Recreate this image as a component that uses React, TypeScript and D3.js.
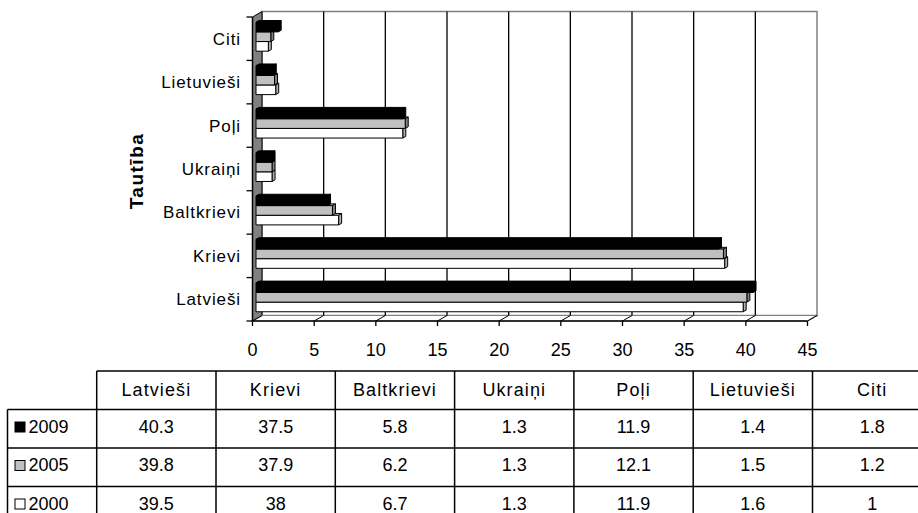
import React from 'react'
import * as d3 from 'd3'

const categories = ['Latvieši', 'Krievi', 'Baltkrievi', 'Ukraiņi', 'Poļi', 'Lietuvieši', 'Citi']
const years = ['2009', '2005', '2000']
const values2009 = [40.3, 37.5, 5.8, 1.3, 11.9, 1.4, 1.8]
const values2005 = [39.8, 37.9, 6.2, 1.3, 12.1, 1.5, 1.2]
const values2000 = [39.5, 38, 6.7, 1.3, 11.9, 1.6, 1]
const xTicks = [0, 5, 10, 15, 20, 25, 30, 35, 40, 45]
const axisTitle = 'Tautība'

const series = [
  { year: years[0], values: values2009, front: '#000000', top: '#000000', side: '#000000' },
  { year: years[1], values: values2005, front: '#c0c0c0', top: '#c0c0c0', side: '#808080' },
  { year: years[2], values: values2000, front: '#ffffff', top: '#ffffff', side: '#b0b0b0' },
]

const W = 918
const H = 513
const font = "'Liberation Sans', Arial, sans-serif"

// 3D offsets (front plane -> back plane)
const DX = 9.5
const DY = -5.5
const FX = 3.5
const FY = -2
const BDX = 3
const BDY = -1.7

export default function App() {
  const x = d3.scaleLinear().domain([0, 45]).range([252.5, 807.5])
  const y = d3.scaleBand<string>().domain([...categories].reverse()).range([17, 321])
  const bw = y.bandwidth()
  const barH = bw / 4.5
  const yTop = y.range()[0]
  const yBot = y.range()[1]

  const col = d3.scaleBand<string>().domain(categories).range([96.7, 931.8])
  const row = d3.scaleBand<string>().domain(['head', ...years]).range([371, 525])

  const poly = (pts: [number, number][]) => pts.map(p => p.join(',')).join(' ')

  // draw order: lower bars first so upper bars cover their hidden top faces
  const bars: JSX.Element[] = []
  categories.forEach((c, ci) => {
    const band = y(c)!
    for (let si = series.length - 1; si >= 0; si--) {
      const s = series[si]
      const v = s.values[ci]
      const x0 = x(0) + FX
      const x1 = x(v) + FX
      const y0 = band + FY + barH * 0.75 + si * barH
      const y1 = y0 + barH
      bars.push(
        <g key={c + s.year} stroke="#000" strokeWidth={1} strokeLinejoin="round">
          <polygon points={poly([[x0, y0], [x0 + BDX, y0 + BDY], [x1 + BDX, y0 + BDY], [x1, y0]])} fill={s.top} />
          <polygon points={poly([[x1, y0], [x1 + BDX, y0 + BDY], [x1 + BDX, y1 + BDY], [x1, y1]])} fill={s.side} />
          <rect x={x0} y={y0} width={x1 - x0} height={barH} fill={s.front} />
        </g>
      )
    }
  })

  return (
    <div style={{ position: 'absolute', left: 0, top: 0 }}>
      <svg width={W} height={H} style={{ display: 'block', background: '#fff' }} fontFamily={font}>
        {/* back wall */}
        <rect x={x(0) + DX} y={yTop + DY} width={x(45) - x(0)} height={yBot - yTop} fill="#fff" stroke="#808080" strokeWidth={1.5} />
        {/* left wall */}
        <polygon points={poly([[x(0), yTop], [x(0) + DX, yTop + DY], [x(0) + DX, yBot + DY], [x(0), yBot]])} fill="#808080" stroke="#000" strokeWidth={1} />
        {/* floor */}
        <polygon points={poly([[x(0), yBot], [x(0) + DX, yBot + DY], [x(45) + DX, yBot + DY], [x(45), yBot]])} fill="#fff" stroke="#808080" strokeWidth={1.2} />
        {/* gridlines back wall */}
        {xTicks.slice(1, -1).map(t => (
          <line key={'g' + t} x1={x(t) + DX} x2={x(t) + DX} y1={yTop + DY} y2={yBot + DY} stroke="#000" strokeWidth={1.3} />
        ))}
        {/* gridlines on floor */}
        {xTicks.map(t => (
          <line key={'f' + t} x1={x(t)} x2={x(t) + DX} y1={yBot} y2={yBot + DY} stroke="#000" strokeWidth={1} />
        ))}
        {/* value axis */}
        <line x1={x(0)} x2={x(45)} y1={yBot} y2={yBot} stroke="#000" strokeWidth={1.5} />
        {xTicks.map(t => (
          <g key={'t' + t}>
            <line x1={x(t)} x2={x(t)} y1={yBot} y2={yBot + 5} stroke="#000" strokeWidth={1.3} />
            <text x={x(t)} y={yBot + 35} textAnchor="middle" fontSize={18}>{t}</text>
          </g>
        ))}
        {/* category axis */}
        <line x1={x(0)} x2={x(0)} y1={yTop} y2={yBot} stroke="#000" strokeWidth={1.5} />
        {[...y.domain().map(d => y(d)!), yBot].map((p, i) => (
          <line key={'ct' + i} x1={x(0) - 6} x2={x(0)} y1={p} y2={p} stroke="#000" strokeWidth={1.3} />
        ))}
        {categories.map(c => (
          <text key={'cl' + c} x={241} y={y(c)! + bw / 2 + 6} textAnchor="end" fontSize={17} letterSpacing={0.9}>{c}</text>
        ))}
        <text transform={`translate(143,171) rotate(-90)`} textAnchor="middle" fontSize={19} fontWeight="bold" letterSpacing={1.5}>{axisTitle}</text>

        {bars}

        {/* data table */}
        <g stroke="#000" strokeWidth={1.5}>
          <line x1={col.range()[0]} x2={W} y1={row('head')!} y2={row('head')!} />
          {years.map(yr => (
            <line key={'h' + yr} x1={7.5} x2={W} y1={row(yr)!} y2={row(yr)!} />
          ))}
          <line x1={7.5} x2={7.5} y1={row(years[0])!} y2={H} />
          {categories.map(c => (
            <line key={'v' + c} x1={col(c)!} x2={col(c)!} y1={row('head')!} y2={H} />
          ))}
        </g>
        {categories.map(c => (
          <text key={'th' + c} x={col(c)! + col.bandwidth() / 2} y={row('head')! + 25} textAnchor="middle" fontSize={18} letterSpacing={1.1}>{c}</text>
        ))}
        {series.map(s => (
          <g key={'r' + s.year}>
            <rect x={15} y={row(s.year)! + 12.5} width={10} height={10} fill={s.front} stroke="#000" strokeWidth={1} />
            <text x={28.5} y={row(s.year)! + 23} fontSize={18}>{s.year}</text>
            {s.values.map((v, i) => (
              <text key={i} x={col(categories[i])! + col.bandwidth() / 2} y={row(s.year)! + 23} textAnchor="middle" fontSize={18}>{v}</text>
            ))}
          </g>
        ))}
      </svg>
    </div>
  )
}
